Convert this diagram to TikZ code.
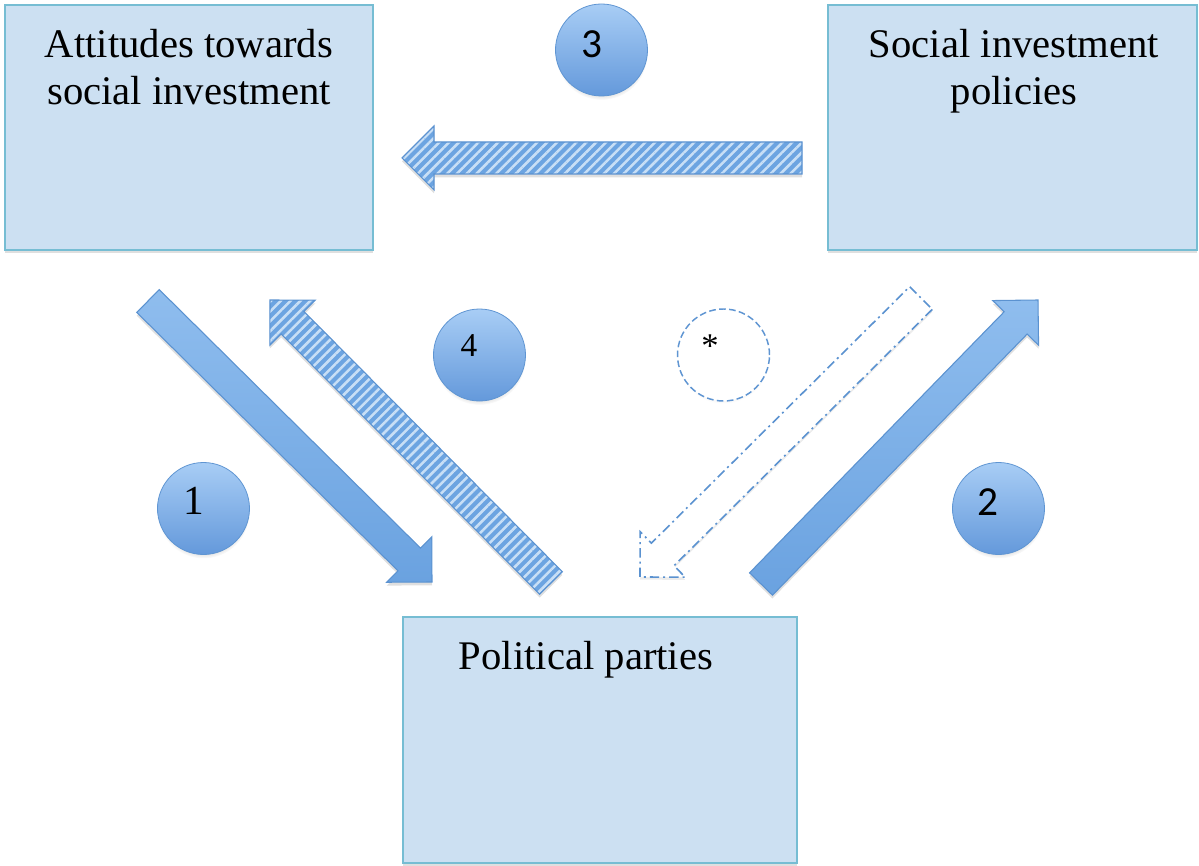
\documentclass[tikz,border=0pt]{standalone}
\usepackage{fontspec}
\setmainfont{Liberation Serif}
\newfontfamily\numsans{Carlito}
\usetikzlibrary{calc,shadows,patterns.meta}
\definecolor{boxfill}{HTML}{CCE0F2}
\definecolor{boxline}{HTML}{76BDD3}
\definecolor{arrlight}{HTML}{8FBDEE}
\definecolor{arrdark}{HTML}{6AA2E0}
\definecolor{arrline}{HTML}{5B92D0}
\definecolor{stripebase}{HTML}{6CA4E1}
\definecolor{stripe}{HTML}{C8DFF6}
\definecolor{circtop}{HTML}{A8CDF5}
\definecolor{circbot}{HTML}{6499DB}
\definecolor{circline}{HTML}{5F95D2}
\newcommand{\blockarrow}[4]{% #1 prefix, #2 style, #3 tail centre, #4 tip
  \coordinate (#1h) at ($(#4)!24pt!(#3)$);
  \path[#2] ($(#3)!12pt!90:(#4)$) -- ($(#1h)!12pt!90:(#4)$) -- ($(#1h)!24pt!90:(#4)$)
    -- (#4) -- ($(#1h)!24pt!-90:(#4)$) -- ($(#1h)!12pt!-90:(#4)$) -- ($(#3)!12pt!-90:(#4)$) -- cycle;
}
\begin{document}
\begin{tikzpicture}[x=0.75pt,y=-0.75pt,
  box/.style={draw=boxline, line width=1.5pt, fill=boxfill, inner sep=0pt,
    drop shadow={shadow xshift=0pt, shadow yshift=-2.5pt, opacity=0.25}},
  boxtext/.style={font=\fontsize{30.5}{35}\selectfont, align=center, inner sep=0pt, anchor=north},
  numcirc/.style={circle, draw=circline, line width=0.6pt, top color=circtop, bottom color=circbot,
    minimum size=69pt, inner sep=0pt,
    circular drop shadow={shadow xshift=0pt, shadow yshift=-3pt, opacity=0.3, shadow scale=1.0}},
  starcirc/.style={circle, draw=circline, line width=1.1pt, dash pattern=on 5pt off 2.5pt, fill=white,
    minimum size=69pt, inner sep=0pt,
    circular drop shadow={shadow xshift=0pt, shadow yshift=-2pt, opacity=0.15, shadow scale=1.0}},
  serifnum/.style={font=\fontsize{31}{31}\selectfont, inner sep=0pt},
  sansnum/.style={font=\numsans\fontsize{31}{31}\selectfont, inner sep=0pt},
  solidarrow/.style={top color=arrlight, bottom color=arrdark, draw=arrline, line width=0.8pt,
    drop shadow={shadow xshift=0pt, shadow yshift=-2.5pt, opacity=0.25}},
  stripearrow/.style={fill=stripebase,
    drop shadow={shadow xshift=0pt, shadow yshift=-2.5pt, opacity=0.25},
    postaction={pattern={Lines[angle=45,distance=5.2pt,line width=1.9pt]}, pattern color=stripe},
    postaction={draw=arrline, line width=0.8pt}},
  dasharrow/.style={fill=white, draw=arrline, line width=1.2pt,
    dash pattern=on 7pt off 3pt on 1.5pt off 3pt,
    drop shadow={shadow xshift=0pt, shadow yshift=-2pt, opacity=0.15}}
]
\useasboundingbox (0,0) rectangle (1199,866);

% boxes
\node[box, minimum width=276pt, minimum height=183.75pt] (att) at (189,127.5) {};
\node[box, minimum width=276.75pt, minimum height=183.75pt] (pol) at (1012.5,127.5) {};
\node[box, minimum width=295.5pt, minimum height=184.5pt] (par) at (600,740) {};

\node[boxtext] (attT) at (189,29) {Attitudes towards\\social investment};
\node[boxtext] (polT) at (1014,29) {Social investment\\policies};
\node[boxtext] (parT) at (586,641) {Political parties};

% arrow end points
\coordinate (a3t) at (802,158);  \coordinate (a3h) at (402,158);
\coordinate (a1t) at (148,301);  \coordinate (a1h) at (432,582);
\coordinate (a4t) at (551,583);  \coordinate (a4h) at (270,300);
\coordinate (a2t) at (761,584);  \coordinate (a2h) at (1038,300);
\coordinate (ast) at (921,298);  \coordinate (ash) at (640,577);

\blockarrow{p3}{stripearrow}{a3t}{a3h}
\blockarrow{p1}{solidarrow}{a1t}{a1h}
\blockarrow{p4}{stripearrow}{a4t}{a4h}
\blockarrow{p2}{solidarrow}{a2t}{a2h}
\blockarrow{ps}{dasharrow}{ast}{ash}

% numbered circles
\node[numcirc] (c3) at (601.5,50) {};
\node[numcirc] (c4) at (479.5,355) {};
\node[numcirc] (c1) at (203.5,508.5) {};
\node[numcirc] (c2) at (998.5,508.5) {};
\node[starcirc] (cs) at (723.5,355) {};

\node[sansnum] (n3) at (592,44) {3};
\node[serifnum, font=\fontsize{25}{25}\selectfont] (n4) at (469,346) {4};
\node[serifnum] (n1) at (194,501) {1};
\node[sansnum] (n2) at (988,502) {2};
\node[font=\fontsize{26}{26}\selectfont, inner sep=0pt] (ns) at (710,346) {*};
\end{tikzpicture}
\end{document}
